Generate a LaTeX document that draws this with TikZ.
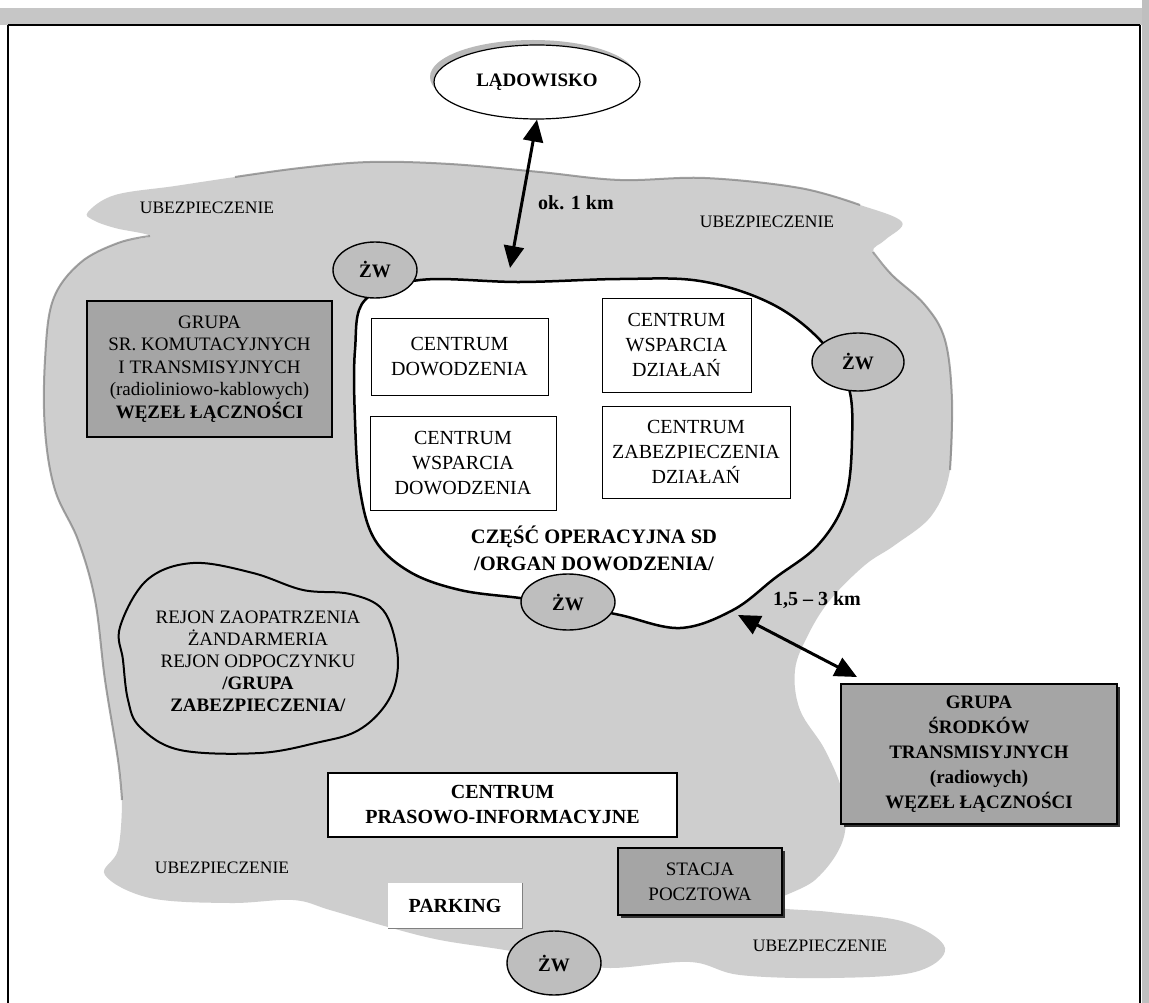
\documentclass[tikz,border=0pt]{standalone}
\usepackage{fontspec}
\setmainfont{Liberation Serif}
\usetikzlibrary{arrows.meta,shapes.geometric}
\definecolor{bandgray}{RGB}{206,206,206}
\definecolor{boxgray}{RGB}{165,165,165}
\definecolor{zwgray}{RGB}{190,190,190}
\definecolor{edgegray}{RGB}{125,125,125}
\begin{document}
\begin{tikzpicture}[x=1pt,y=-1pt,
  cbox/.style={draw=black,line width=0.9pt,fill=white,align=center,inner sep=0pt,font=\fontsize{20}{25}\selectfont},
  gbox/.style={draw=black,line width=1.5pt,fill=boxgray,align=center,inner sep=0pt},
  zw/.style={ellipse,draw=black,line width=1.4pt,fill=zwgray,inner sep=0pt,font=\bfseries\fontsize{19}{22}\selectfont},
  lbl/.style={font=\fontsize{17.5}{20}\selectfont,inner sep=0pt},
  dist/.style={font=\bfseries\fontsize{20}{24}\selectfont,inner sep=0pt},
  darrow/.style={line width=3pt,{Triangle[length=22pt,width=20pt]}-{Triangle[length=22pt,width=20pt]}},
  softedge/.style={edgegray,line width=2pt,opacity=0.7},
]
\useasboundingbox (0,0) rectangle (1149,1003);
\fill[white] (0,0) rectangle (1149,1003);
% scan frame
\fill[gray!45] (0,8) rectangle (1149,25);
\fill[gray!50] (1142,0) rectangle (1149,1003);
\draw[line width=1.5pt] (8,25) -- (1140,25);
\draw[line width=1.5pt] (8,25) -- (8,1003);
\draw[line width=2pt] (1140,25) -- (1140,1003);

% security zone (gray)
\fill[bandgray] plot[smooth cycle, tension=0.6] coordinates {
 (88,212) (115,195) (175,186) (235,177) (300,168) (370,162) (450,164) (540,172)
 (620,180) (705,178) (800,188) (860,205) (902,222) (885,240) (873,252) (892,275)
 (925,305) (945,340) (952,400) (950,470) (932,515) (895,545) (865,565) (830,600)
 (808,635) (795,670) (800,710) (825,750) (843,795) (843,840) (815,880) (770,905)
 (830,912) (905,922) (945,948) (915,972) (830,978) (740,975) (690,962) (610,968)
 (560,960) (505,950) (440,940) (388,927) (330,910) (293,900) (230,903) (150,898)
 (105,875) (118,850) (122,800) (118,760) (105,680) (95,600) (78,540) (55,490)
 (45,430) (45,360) (53,300) (80,263) (118,243) (150,236) (115,228) (93,220)};
\draw[softedge] plot[smooth, tension=0.6] coordinates {
 (235,177) (300,168) (370,162) (450,164) (540,172) (620,180) (705,178) (800,188) (860,205)};
\draw[softedge] plot[smooth, tension=0.6] coordinates {
 (150,236) (118,243) (80,263) (53,300) (45,360) (45,430) (55,490) (78,540) (95,600) (105,680) (118,760) (122,800)};
\draw[softedge] plot[smooth, tension=0.6] coordinates {
 (873,252) (892,275) (925,305) (945,340) (952,400) (950,470)};

% operational part (white)
\draw[fill=white,line width=2.5pt] plot[smooth cycle, tension=0.6] coordinates {
 (365,300) (420,280) (520,282) (620,279) (700,281) (770,303) (820,340) (848,385)
 (852,440) (845,500) (818,545) (775,578) (733,610) (680,628) (620,615) (570,605)
 (520,598) (460,590) (410,572) (375,540) (360,490) (355,420) (355,350)};

% supply region blob
\draw[line width=2pt] plot[smooth cycle, tension=0.6] coordinates {
 (120,627) (147,580) (193,563) (253,573) (303,590) (350,594) (383,610) (397,650)
 (395,685) (380,712) (355,732) (320,742) (260,753) (180,750) (140,727) (128,700) (123,660)};
\node[align=center,inner sep=0pt,font=\fontsize{19}{22}\selectfont] (rejon) at (258,661)
 {REJON ZAOPATRZENIA\\ŻANDARMERIA\\REJON ODPOCZYNKU\\\textbf{/GRUPA}\\\textbf{ZABEZPIECZENIA/}};

% landing site
\fill[gray!55] (533,77) ellipse [x radius=103, y radius=37];
\node[ellipse,draw=black,line width=1.2pt,fill=white,minimum width=206pt,minimum height=74pt,
 font=\bfseries\fontsize{19}{22}\selectfont] (lad) at (537,82) {LĄDOWISKO};

% ZW nodes
\node[zw,minimum width=84pt,minimum height=56pt] (zw1) at (375,270) {ŻW};
\node[zw,minimum width=92pt,minimum height=58pt] (zw2) at (858,362) {ŻW};
\node[zw,minimum width=94pt,minimum height=56pt] (zw3) at (568,602) {ŻW};
\node[zw,minimum width=94pt,minimum height=64pt] (zw4) at (554,963) {ŻW};

% security labels
\node[lbl] (u1) at (207,208) {UBEZPIECZENIE};
\node[lbl] (u2) at (767,222) {UBEZPIECZENIE};
\node[lbl] (u3) at (222,868) {UBEZPIECZENIE};
\node[lbl] (u4) at (820,946) {UBEZPIECZENIE};

% centres
\node[cbox,minimum width=177pt,minimum height=77pt] (cd) at (459.5,356.5) {CENTRUM\\DOWODZENIA};
\node[cbox,minimum width=149pt,minimum height=94pt] (cwdz) at (676.5,345) {CENTRUM\\WSPARCIA\\DZIAŁAŃ};
\node[cbox,minimum width=186pt,minimum height=94pt] (cwdo) at (463,463) {CENTRUM\\WSPARCIA\\DOWODZENIA};
\node[cbox,minimum width=188pt,minimum height=92pt] (czd) at (696,452) {CENTRUM\\ZABEZPIECZENIA\\DZIAŁAŃ};
\node[align=center,inner sep=0pt,font=\bfseries\fontsize{20.5}{27}\selectfont] (cop) at (594,548)
 {CZĘŚĆ OPERACYJNA SD\\/ORGAN DOWODZENIA/};

% left comms node
\node[gbox,minimum width=245pt,minimum height=136pt,font=\fontsize{19}{22.5}\selectfont] (wl) at (209.5,369)
 {GRUPA\\SR. KOMUTACYJNYCH\\I TRANSMISYJNYCH\\(radioliniowo-kablowych)\\\textbf{WĘZEŁ ŁĄCZNOŚCI}};

% right comms node
\fill[black!80] (844,687) rectangle (1120,827);
\node[gbox,minimum width=276pt,minimum height=140pt,font=\bfseries\fontsize{19}{25}\selectfont] (wr) at (979,754)
 {GRUPA\\ŚRODKÓW\\TRANSMISYJNYCH\\(radiowych)\\WĘZEŁ ŁĄCZNOŚCI};

% press centre
\node[draw=black,line width=1.8pt,fill=white,align=center,inner sep=0pt,minimum width=349pt,minimum height=64pt,
 font=\bfseries\fontsize{20}{25}\selectfont] (cpi) at (502.5,805) {CENTRUM\\PRASOWO-INFORMACYJNE};

% post office
\fill[black!80] (621,851) rectangle (785,918);
\node[gbox,line width=2pt,minimum width=164pt,minimum height=67pt,font=\fontsize{19}{25}\selectfont] (sp) at (700,881.5)
 {STACJA\\POCZTOWA};

% parking
\node[fill=white,inner sep=0pt,minimum width=134pt,minimum height=45pt,font=\bfseries\fontsize{20}{24}\selectfont] (pk) at (455,905.5) {PARKING};
\draw[gray,line width=1.2pt] (pk.north east) -- (pk.south east) -- (pk.south west);

% distances
\coordinate (a1e) at (510,268);
\draw[darrow] (lad.south) -- (a1e);
\node[dist,anchor=west] (d1) at (538,203) {ok. 1 km};
\coordinate (a2s) at (738,615);
\coordinate (a2e) at (857,677);
\draw[darrow] (a2s) -- (a2e);
\node[dist] (d2) at (817,600) {1,5 – 3 km};
\end{tikzpicture}
\end{document}
